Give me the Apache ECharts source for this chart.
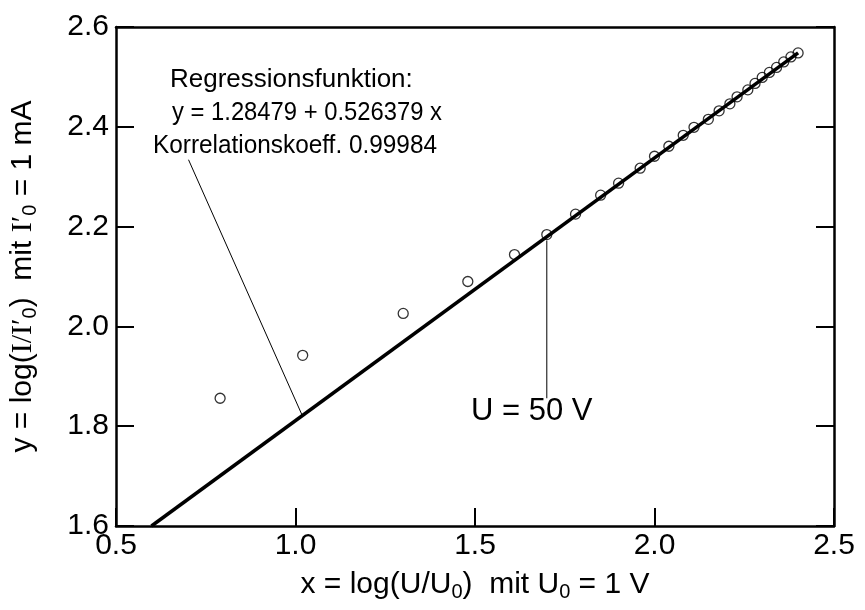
<!DOCTYPE html>
<html>
<head>
<meta charset="utf-8">
<script src="https://cdn.jsdelivr.net/npm/echarts@6/dist/echarts.min.js"></script>
<style>
  html, body { margin: 0; background: #fff; }
  #main { width: 865px; height: 610px; }
</style>
</head>
<body>
<div id="main"></div>
<script>
// ticks
var xTickLabels = ['0.5', '1.0', '1.5', '2.0', '2.5'];
var yTickLabels = ['1.6', '1.8', '2.0', '2.2', '2.4', '2.6'];

// Messpunkte  x = log(U/U0), y = log(I/I0)
var ptX = [0.79, 1.02, 1.30, 1.48, 1.61, 1.70, 1.78, 1.85, 1.90, 1.96, 2.00, 2.04, 2.08,
           2.11, 2.15, 2.18, 2.21, 2.23, 2.26, 2.28, 2.30, 2.32, 2.34, 2.36, 2.38, 2.40];
var ptY = [1.856, 1.942, 2.026, 2.090, 2.144, 2.184, 2.225, 2.263, 2.287, 2.317, 2.341, 2.361, 2.383,
           2.399, 2.415, 2.432, 2.446, 2.460, 2.474, 2.487, 2.499, 2.509, 2.519, 2.530, 2.540, 2.548];

// Regressionsgerade y = a + b x
var fitA = 1.28479;
var fitB = 0.526379;
var fitX = [0.5988, 2.40];

var FONT = 'Liberation Sans';
var xMin = +xTickLabels[0], xMax = +xTickLabels[xTickLabels.length - 1];
var yMin = +yTickLabels[0], yMax = +yTickLabels[yTickLabels.length - 1];

var points = ptX.map(function (x, i) { return [x, ptY[i]]; });
var fitLine = fitX.map(function (x) { return [x, fitA + fitB * x]; });

var frameLine = { onZero: false, lineStyle: { color: '#000', width: 2.5 } };
var tickLabel = {
  color: '#000', fontSize: 30, fontFamily: FONT,
  formatter: function (v) { return v.toFixed(1); }
};
var nameRich = {
  n: { fontSize: 30, fontFamily: FONT, color: '#000', lineHeight: 34 },
  s: { fontSize: 30, fontFamily: 'Liberation Serif', color: '#000', lineHeight: 34 },
  b: { fontSize: 20, fontFamily: FONT, color: '#000', lineHeight: 20, verticalAlign: 'bottom' }
};

var myChart = echarts.init(document.getElementById('main'));

var option = {
  animation: false,
  backgroundColor: '#fff',
  grid: { left: 110, right: 31, top: 27, bottom: 84 },
  xAxis: [
    {
      type: 'value', min: xMin, max: xMax, interval: 0.5,
      axisLine: frameLine,
      axisTick: { inside: true, length: 18, lineStyle: { color: '#000', width: 2 } },
      splitLine: { show: false },
      axisLabel: Object.assign({ margin: 5 }, tickLabel),
      name: '{n|x = log(U/U}{b|0}{n|)  mit U}{b|0}{n| = 1 V}',
      nameLocation: 'middle', nameGap: 42,
      nameTextStyle: { rich: nameRich }
    },
    {
      type: 'value', position: 'top', min: xMin, max: xMax, interval: 0.5,
      axisLine: frameLine, axisTick: { show: false },
      axisLabel: { show: false }, splitLine: { show: false }
    }
  ],
  yAxis: [
    {
      type: 'value', min: yMin, max: yMax, interval: 0.2,
      axisLine: frameLine,
      axisTick: { inside: true, length: 18, lineStyle: { color: '#000', width: 2 } },
      splitLine: { show: false },
      axisLabel: Object.assign({ margin: 7 }, tickLabel),
      name: '{n|y = log(}{s|I/I′}{b|0}{n|)  mit }{s|I′}{b|0}{n| = 1 mA}',
      nameLocation: 'middle', nameGap: 76, nameRotate: 90,
      nameTextStyle: { rich: nameRich }
    },
    {
      type: 'value', position: 'right', min: yMin, max: yMax, interval: 0.2,
      axisLine: frameLine,
      axisTick: { inside: true, length: 18, lineStyle: { color: '#000', width: 2 } },
      axisLabel: { show: false }, splitLine: { show: false }
    }
  ],
  series: [
    {
      name: 'Regression', type: 'line', data: fitLine,
      showSymbol: false, lineStyle: { color: '#000', width: 3.5 }, z: 2
    },
    {
      name: 'Messwerte', type: 'scatter', data: points,
      symbol: 'circle', symbolSize: 10,
      itemStyle: { color: 'rgba(0,0,0,0)', borderColor: '#000', borderWidth: 1.3 }, z: 3
    }
  ]
};

myChart.setOption(option);

// Beschriftungen
function px(x, y) { return myChart.convertToPixel({ gridIndex: 0 }, [x, y]); }
var leadStart = px(0.702, 2.334);
var leadEnd = px(1.019, fitA + fitB * 1.019);
var uTop = px(ptX[5], 2.172);
var uBot = px(ptX[5], 1.856);

var measureCtx = document.createElement('canvas').getContext('2d');
// Text mit vorgegebener Breite (leicht gestaucht wie im Original)
function txt(x, y, s, size, width) {
  var font = size + 'px ' + FONT;
  measureCtx.font = font;
  var sx = width ? width / measureCtx.measureText(s).width : 1;
  return {
    type: 'text', x: x, y: y, scaleX: sx,
    style: { text: s, font: font, fill: '#000', align: 'left', verticalAlign: 'middle' }
  };
}

myChart.setOption({
  graphic: [
    txt(170, 80, 'Regressionsfunktion:', 26, 0),
    txt(172, 113, 'y = 1.28479 + 0.526379 x', 26, 270),
    txt(153, 146, 'Korrelationskoeff. 0.99984', 26, 284),
    txt(471, 411, 'U = 50 V', 31, 0),
    { type: 'line', shape: { x1: leadStart[0], y1: leadStart[1], x2: leadEnd[0], y2: leadEnd[1] },
      style: { stroke: '#000', lineWidth: 1 } },
    { type: 'line', shape: { x1: uTop[0], y1: uTop[1], x2: uBot[0], y2: uBot[1] },
      style: { stroke: '#000', lineWidth: 1 } }
  ]
});
</script>
</body>
</html>
